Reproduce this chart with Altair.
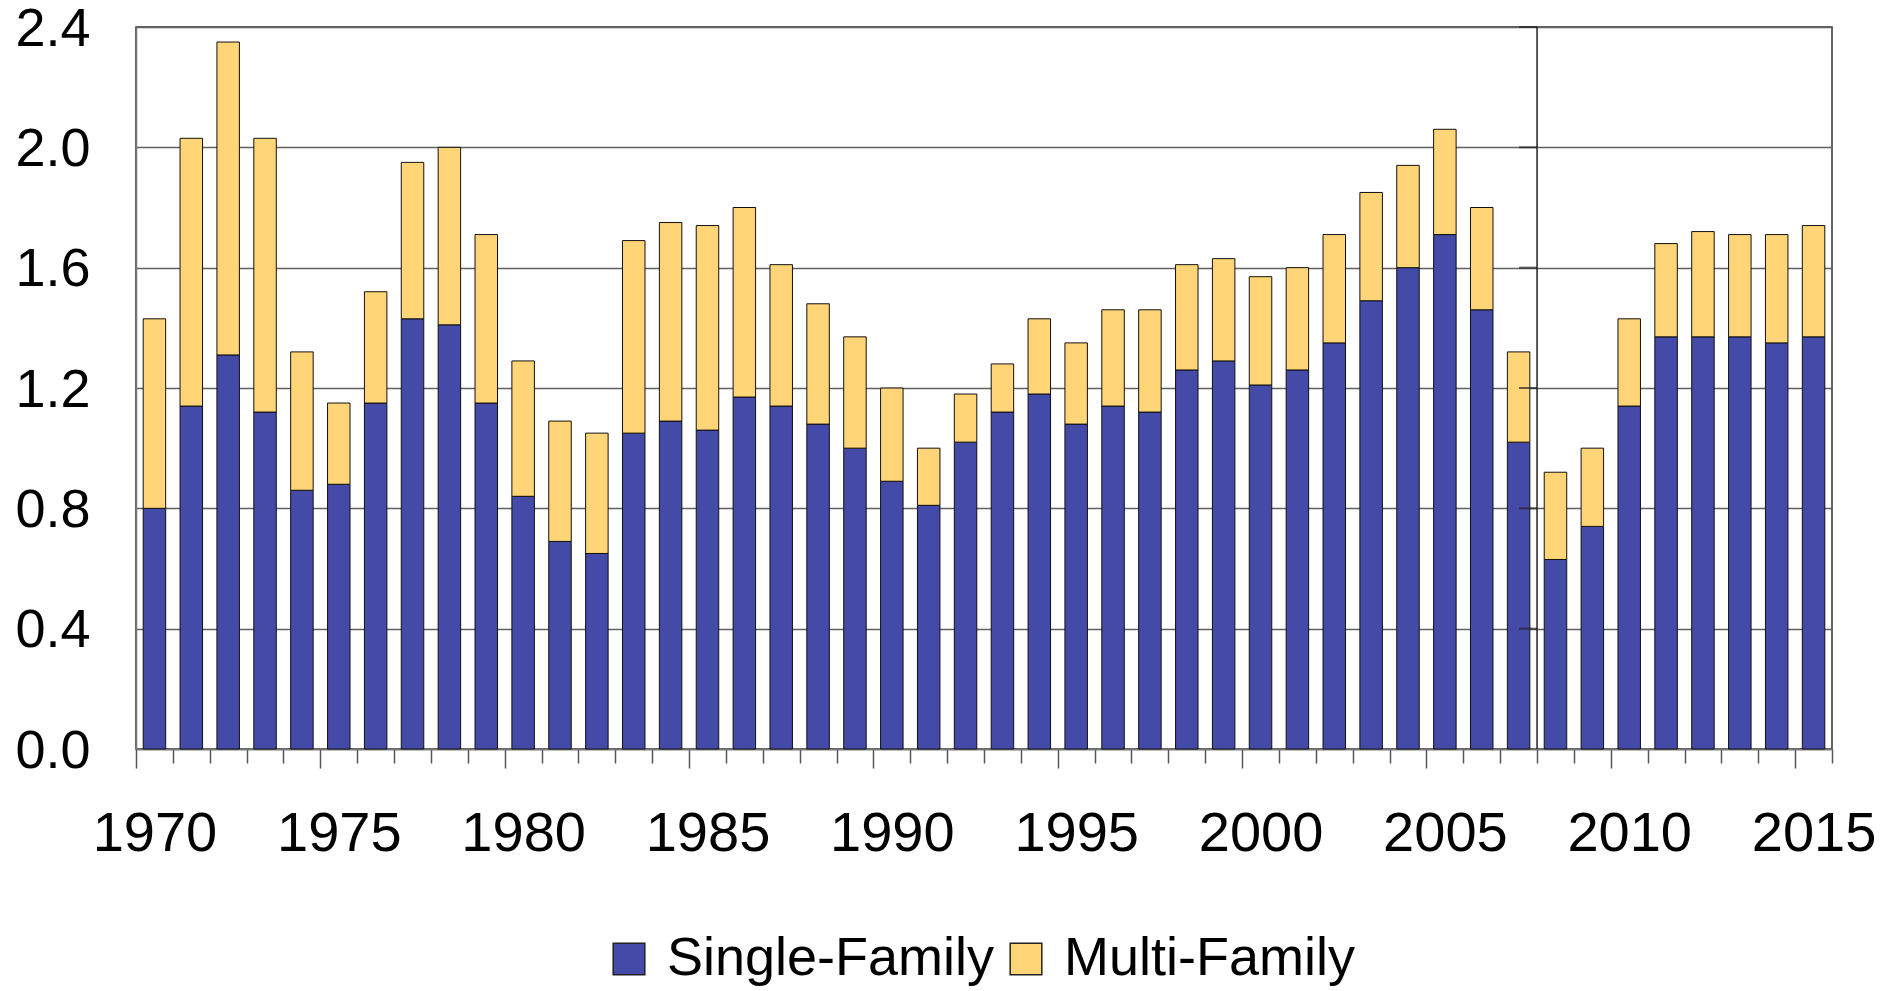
import altair as alt
import pandas as pd

years = list(range(1970, 2016))
single_family = [0.80, 1.14, 1.31, 1.12, 0.86, 0.88, 1.15, 1.43, 1.41, 1.15,
                 0.84, 0.69, 0.65, 1.05, 1.09, 1.06, 1.17, 1.14, 1.08, 1.00,
                 0.89, 0.81, 1.02, 1.12, 1.18, 1.08, 1.14, 1.12, 1.26, 1.29,
                 1.21, 1.26, 1.35, 1.49, 1.60, 1.71, 1.46, 1.02, 0.63, 0.74,
                 1.14, 1.37, 1.37, 1.37, 1.35, 1.37]
multi_family = [0.63, 0.89, 1.04, 0.91, 0.46, 0.27, 0.37, 0.52, 0.59, 0.56,
                0.45, 0.40, 0.40, 0.64, 0.66, 0.68, 0.63, 0.47, 0.40, 0.37,
                0.31, 0.19, 0.16, 0.16, 0.25, 0.27, 0.32, 0.34, 0.35, 0.34,
                0.36, 0.34, 0.36, 0.36, 0.34, 0.35, 0.34, 0.30, 0.29, 0.26,
                0.29, 0.31, 0.35, 0.34, 0.36, 0.37]
series = ["Single-Family", "Multi-Family"]
colors = ["#444AA8", "#FFD577"]
y_ticks = [0.0, 0.4, 0.8, 1.2, 1.6, 2.0, 2.4]
break_year = [2008]

rows = []
for yr, s, m in zip(years, single_family, multi_family):
    rows.append({"year": yr, "series": series[0], "value": s, "order": 0})
    rows.append({"year": yr, "series": series[1], "value": m, "order": 1})
df = pd.DataFrame(rows)

W, H = 1696, 722
FONT = "Liberation Sans"
half_step = W / len(years) / 2

x_scale = alt.Scale(paddingInner=0, paddingOuter=0)
x_enc = alt.X(
    "year:O",
    scale=x_scale,
    axis=alt.Axis(
        title=None, labelAngle=0,
        labelExpr="datum.value % 5 == 0 ? datum.label : ''",
        labelFontSize=56, labelFont=FONT, labelColor="black", labelPadding=43,
        labelOverlap=False, labelBound=False, labelFlush=False,
        tickBand="extent",
        tickSize={"condition": {"test": "datum.extra || (datum.value + 1) % 5 == 0", "value": 19},
                  "value": 14},
        tickColor="#555", tickWidth=1.5, domainColor="#777", domainWidth=1.5,
        grid=False,
    ),
)

bars = alt.Chart(df).mark_bar(stroke="#111", strokeWidth=1,
                              width=alt.RelativeBandSize(0.61)).encode(
    x=x_enc,
    y=alt.Y(
        "value:Q", stack="zero",
        scale=alt.Scale(domain=[0, 2.4], nice=False),
        axis=alt.Axis(
            values=y_ticks, format=".1f", title=None,
            labelFontSize=54, labelFont=FONT, labelColor="black", labelPadding=46,
            labelOffset=2,
            ticks=False, grid=True, gridColor="#616161", gridWidth=1.6,
            domainColor="#777", domainWidth=1.5,
        ),
    ),
    color=alt.Color(
        "series:N",
        scale=alt.Scale(domain=series, range=colors),
        legend=alt.Legend(
            title=None, orient="none", legendX=466, legendY=905, direction="horizontal",
            symbolType="square", symbolSize=1000, symbolStrokeColor="#222", symbolStrokeWidth=1.5,
            labelFontSize=54, labelFont=FONT, labelColor="black", labelLimit=0,
            columnPadding=4, labelOffset=11,
        ),
    ),
    order=alt.Order("order:Q"),
)

break_df = pd.DataFrame({"year": break_year})
rule = alt.Chart(break_df).mark_rule(color="#222", strokeWidth=1.5).encode(
    x=alt.X("year:O", bandPosition=0),
    y=alt.datum(0),
    y2=alt.datum(2.4),
)

tick_df = pd.DataFrame({"year": break_year * (len(y_ticks) - 1), "tick": y_ticks[1:]})
side_ticks = alt.Chart(tick_df).mark_tick(
    color="#222", thickness=2, size=18, xOffset=-(half_step + 9)
).encode(
    x=alt.X("year:O"),
    y=alt.Y("tick:Q"),
)

chart = alt.layer(bars, rule, side_ticks).properties(
    width=W, height=H,
    autosize=alt.AutoSizeParams(type="none"),
    padding={"left": 128, "top": 19, "right": 50, "bottom": 242},
).configure_view(stroke="#333", strokeWidth=1.5)

chart.save("out.html", embed_options={"renderer": "svg", "actions": False})
